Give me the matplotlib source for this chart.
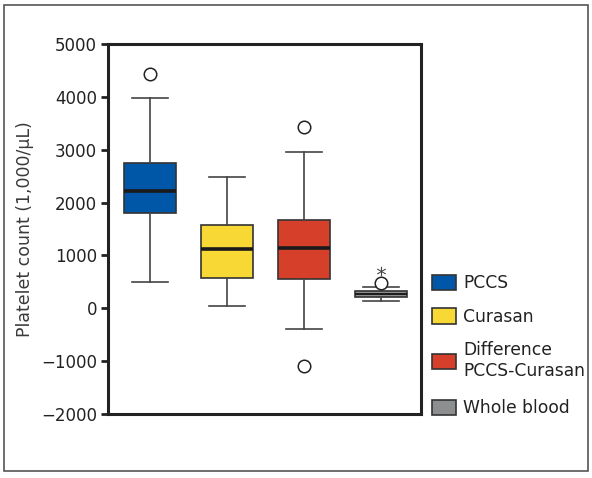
import matplotlib
matplotlib.use("Agg")
import matplotlib.pyplot as plt
from matplotlib.patches import Patch, Rectangle

# ---- data ----
groups = ["PCCS", "Curasan", "Difference\nPCCS-Curasan", "Whole blood"]
whisker_low = [490, 45, -390, 145]
q1 = [1810, 575, 560, 210]
median = [2225, 1130, 1140, 270]
q3 = [2745, 1575, 1670, 325]
whisker_high = [3975, 2490, 2955, 410]
outliers = [[4430], [], [3425, -1085], [485]]
extremes = [[], [], [], [700]]
colors = ["#0057A8", "#F7D835", "#D6402B", "#8C8E90"]
yticks = [-2000, -1000, 0, 1000, 2000, 3000, 4000, 5000]

plt.rcParams["font.family"] = ["DejaVu Sans"]

fig = plt.figure(figsize=(5.92, 4.78), dpi=100)
ax = fig.add_axes([108 / 592, 1 - 414 / 478, (421 - 108) / 592, (414 - 44) / 478])

stats = []
for i, g in enumerate(groups):
    stats.append(dict(med=median[i], q1=q1[i], q3=q3[i], whislo=whisker_low[i],
                      whishi=whisker_high[i], fliers=outliers[i], label=g))

edge = "#333333"
bp = ax.bxp(stats, positions=[1, 2, 3, 4], widths=0.68, patch_artist=True,
            showfliers=True, capwidths=0.47,
            boxprops=dict(edgecolor=edge, linewidth=1.2),
            whiskerprops=dict(color="#444444", linewidth=1.2),
            capprops=dict(color="#444444", linewidth=1.2),
            medianprops=dict(color="#1a1a1a", linewidth=2.6),
            flierprops=dict(marker="o", markersize=9, markerfacecolor="white",
                            markeredgecolor="#222222", markeredgewidth=1.1))
for patch, c in zip(bp["boxes"], colors):
    patch.set_facecolor(c)
bp["medians"][3].set_linewidth(1.4)

for i, ex in enumerate(extremes):
    if ex:
        ax.scatter([i + 1] * len(ex), ex, marker="$*$", s=45, color="#444444",
                   linewidths=0, zorder=4)

ax.set_xlim(0.455, 4.52)
ax.set_ylim(-2000, 5000)
ax.set_yticks(yticks)
ax.set_yticklabels([("\u2212" + str(abs(t))) if t < 0 else str(t) for t in yticks],
                   fontsize=12, color="#222222")
ax.set_xticks([])
ax.tick_params(axis="y", direction="out", length=5, width=2, color="#222222", pad=3)
for s in ax.spines.values():
    s.set_linewidth(2.2)
    s.set_color("#222222")
ax.set_ylabel("Platelet count (1,000/\u00b5L)", fontsize=12.5, color="#3a3a3a", labelpad=5)

handles = [Patch(facecolor=c, edgecolor="#333333", linewidth=1.2) for c in colors]
leg_kw = dict(loc="upper left", frameon=False, fontsize=12.3, handlelength=1.38,
              handleheight=1.0, handletextpad=0.42, labelspacing=0.9, borderpad=0.2,
              borderaxespad=0, labelcolor="#222222")
leg1 = fig.legend(handles[:3], groups[:3], bbox_to_anchor=(429 / 592, 1 - 271 / 478), **leg_kw)
leg2 = fig.legend(handles[3:], groups[3:], bbox_to_anchor=(429 / 592, 1 - 396 / 478), **leg_kw)

fig.patches.append(Rectangle((4 / 592, 1 - 471 / 478), (588 - 4) / 592, (471 - 5) / 478,
                             transform=fig.transFigure, fill=False, edgecolor="#555555",
                             linewidth=1.2))

fig.savefig("out.png", dpi=100)
